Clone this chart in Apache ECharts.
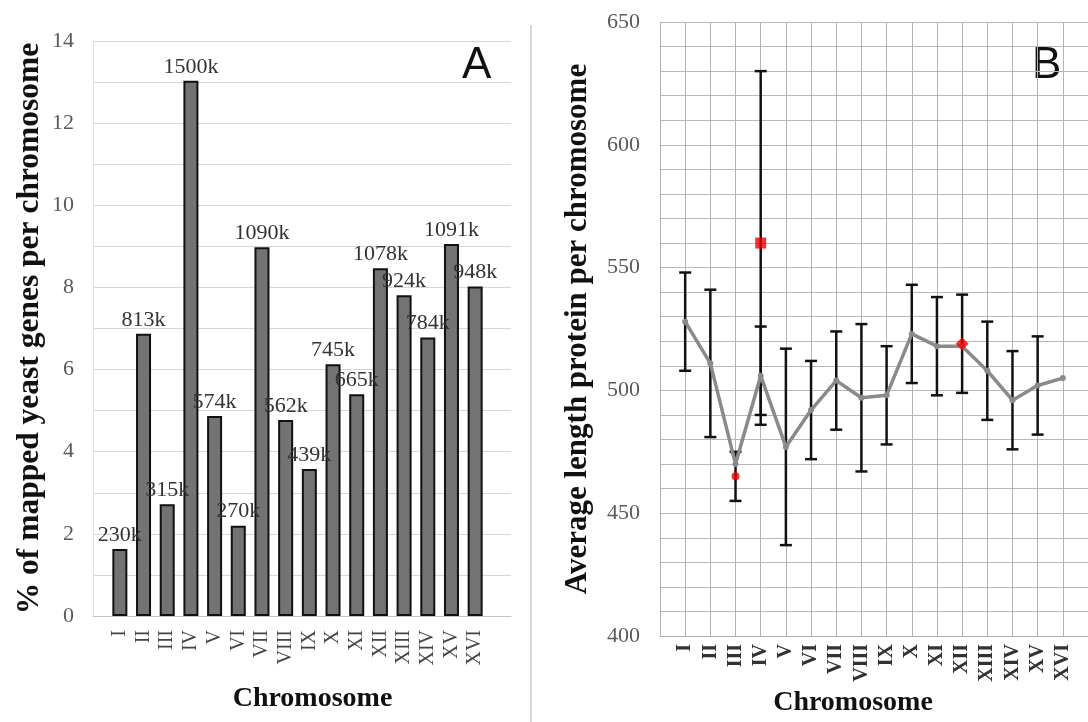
<!DOCTYPE html>
<html>
<head>
<meta charset="utf-8">
<script src="https://cdn.jsdelivr.net/npm/echarts@6/dist/echarts.min.js"></script>
<style>
  html, body { margin: 0; padding: 0; background: #fff; }
  #chart { width: 1088px; height: 722px; }
</style>
</head>
<body>
<div id="chart"></div>
<script>
// panel A: share of mapped genes per chromosome, with chromosome size on top
const chromosomes = ['I', 'II', 'III', 'IV', 'V', 'VI', 'VII', 'VIII', 'IX', 'X', 'XI', 'XII', 'XIII', 'XIV', 'XV', 'XVI']
const mappedPct = [1.63, 6.87, 2.72, 13.03, 4.87, 2.2, 8.98, 4.77, 3.58, 6.13, 5.4, 8.47, 7.81, 6.78, 9.06, 8.02]
const chromSize = ['230k', '813k', '315k', '1500k', '574k', '270k', '1090k', '562k', '439k', '745k', '665k', '1078k', '924k', '784k', '1091k', '948k']

// panel B: average protein length (null = no error bar drawn)
const avgLength = [528, 511, 470, 506, 477, 492, 504, 497, 498, 523, 518, 518, 508, 496, 502, 505]
const lengthLow = [508, 481, null, 486, 437, 472, 484, 467, 478, 503, 498, null, 488, 476, 482, null]
const lengthHigh = [548, 541, null, 526, 517, 512, 524, 527, 518, 543, 538, null, 528, 516, 522, null]

// highlighted (red) chromosomes with their own error bars
const outlierChrom = ['III', 'IV', 'XII']
const outlierLength = [465, 560, 519]
const outlierLow = [455, 490, 499]
const outlierHigh = [475, 630, 539]

const serif = 'Liberation Serif'
const chart = echarts.init(document.getElementById('chart'))

const pos = (name) => chromosomes.indexOf(name) + 1

const errData = (xs, lows, highs) =>
  xs.map((x, i) => [x, lows[i], highs[i]]).filter((d) => d[1] != null)

const renderErr = (params, api) => {
  const x = api.value(0)
  const lo = api.coord([x, api.value(1)])
  const hi = api.coord([x, api.value(2)])
  const w = 6
  const style = { stroke: '#111', lineWidth: 2.5 }
  return {
    type: 'group',
    children: [
      { type: 'line', shape: { x1: lo[0], y1: lo[1], x2: hi[0], y2: hi[1] }, style },
      { type: 'line', shape: { x1: lo[0] - w, y1: lo[1], x2: lo[0] + w, y2: lo[1] }, style },
      { type: 'line', shape: { x1: hi[0] - w, y1: hi[1], x2: hi[0] + w, y2: hi[1] }, style },
    ],
  }
}

const redSymbols = ['circle', 'rect', 'diamond']
const redSizes = [8, 11, 13]

chart.setOption({
  animation: false,
  grid: [
    { left: 93, top: 41, width: 418, bottom: 106 },
    { left: 108, top: 41, width: 379, bottom: 106 },
    { left: 660, top: 22, width: 431, bottom: 84 },
  ],
  xAxis: [
    {
      gridIndex: 0,
      type: 'value',
      min: 0,
      max: 1,
      axisLabel: { show: false },
      axisTick: { show: false },
      splitLine: { show: false },
      axisLine: { lineStyle: { color: '#c4c4c4' } },
    },
    {
      gridIndex: 1,
      type: 'category',
      data: chromosomes,
      axisLine: { show: false },
      axisTick: { alignWithLabel: true, interval: 0, length: 5, lineStyle: { color: '#aaa' } },
      axisLabel: { interval: 0, rotate: 90, margin: 14, fontFamily: serif, fontSize: 20, color: '#444' },
      name: 'Chromosome',
      nameLocation: 'middle',
      nameGap: 69,
      nameMoveOverlap: false,
      nameTextStyle: { fontFamily: serif, fontSize: 28, fontWeight: 'bold', color: '#111', padding: [0, 0, 0, 30] },
    },
    {
      gridIndex: 2,
      type: 'value',
      min: 0,
      max: 17,
      interval: 1,
      axisLine: { lineStyle: { color: '#b0b0b0' } },
      axisTick: { show: false },
      splitLine: { lineStyle: { color: '#b4b4b4' } },
      axisLabel: {
        rotate: 90,
        margin: 8,
        fontFamily: serif,
        fontSize: 20,
        fontWeight: 'bold',
        color: '#333',
        formatter: (v) => chromosomes[v - 1] || '',
      },
      name: 'Chromosome',
      nameLocation: 'middle',
      nameGap: 53,
      nameMoveOverlap: false,
      nameTextStyle: { fontFamily: serif, fontSize: 28, fontWeight: 'bold', color: '#111', padding: [0, 42, 0, 0] },
    },
  ],
  yAxis: [
    {
      gridIndex: 0,
      type: 'value',
      min: 0,
      max: 14,
      interval: 1,
      axisLine: { show: true, lineStyle: { color: '#e2e2e2' } },
      axisTick: { show: false },
      splitLine: { lineStyle: { color: '#d6d6d6' } },
      axisLabel: {
        margin: 19,
        fontFamily: serif,
        fontSize: 22,
        color: '#595959',
        formatter: (v) => (v % 2 === 0 ? v : ''),
      },
      name: '% of mapped yeast genes per chromosome',
      nameLocation: 'middle',
      nameGap: 47,
      nameMoveOverlap: false,
      nameTextStyle: { fontFamily: serif, fontSize: 31.5, fontWeight: 'bold', color: '#111' },
    },
    { gridIndex: 1, type: 'value', min: 0, max: 14, show: false },
    {
      gridIndex: 2,
      type: 'value',
      min: 400,
      max: 650,
      interval: 10,
      axisLine: { show: false },
      axisTick: { show: false },
      splitLine: { lineStyle: { color: '#b8b8b8' } },
      axisLabel: {
        margin: 20,
        fontFamily: serif,
        fontSize: 22,
        color: '#595959',
        formatter: (v) => (v % 50 === 0 ? v : ''),
      },
      name: 'Average length protein per chromosome',
      nameLocation: 'middle',
      nameGap: 67,
      nameMoveOverlap: false,
      nameTextStyle: { fontFamily: serif, fontSize: 31, fontWeight: 'bold', color: '#111' },
    },
  ],
  series: [
    {
      type: 'bar',
      xAxisIndex: 1,
      yAxisIndex: 1,
      data: mappedPct,
      barWidth: 15,
      itemStyle: { color: '#737373', borderColor: '#111', borderWidth: 2 },
      label: {
        show: true,
        position: 'top',
        distance: 3,
        fontFamily: serif,
        fontSize: 22,
        color: '#333',
        formatter: (p) => chromSize[p.dataIndex],
      },
    },
    {
      type: 'custom',
      xAxisIndex: 2,
      yAxisIndex: 2,
      data: errData(chromosomes.map((c, i) => i + 1), lengthLow, lengthHigh),
      encode: { x: 0, y: [1, 2] },
      renderItem: renderErr,
      z: 2,
    },
    {
      type: 'custom',
      xAxisIndex: 2,
      yAxisIndex: 2,
      data: errData(outlierChrom.map(pos), outlierLow, outlierHigh),
      encode: { x: 0, y: [1, 2] },
      renderItem: renderErr,
      z: 2,
    },
    {
      type: 'line',
      xAxisIndex: 2,
      yAxisIndex: 2,
      data: avgLength.map((v, i) => [i + 1, v]),
      color: '#8a8a8a',
      lineStyle: { width: 3.5, color: '#8a8a8a' },
      symbol: 'circle',
      symbolSize: 6,
      itemStyle: { color: '#8a8a8a' },
      z: 3,
    },
    {
      type: 'scatter',
      xAxisIndex: 2,
      yAxisIndex: 2,
      data: outlierChrom.map((c, i) => ({
        value: [pos(c), outlierLength[i]],
        symbol: redSymbols[i],
        symbolSize: redSizes[i],
      })),
      itemStyle: { color: '#f00000' },
      z: 4,
    },
  ],
  graphic: [
    { type: 'text', left: 462, top: 44, style: { text: 'A', fontFamily: 'Liberation Sans', fontSize: 44, fill: '#111' } },
    { type: 'text', left: 1032, top: 44, style: { text: 'B', fontFamily: 'Liberation Sans', fontSize: 44, fill: '#111' } },
    { type: 'line', shape: { x1: 531, y1: 25, x2: 531, y2: 722 }, style: { stroke: '#c8c8c8', lineWidth: 1.5 } },
  ],
})

window.addEventListener('resize', () => chart.resize())
</script>
</body>
</html>
